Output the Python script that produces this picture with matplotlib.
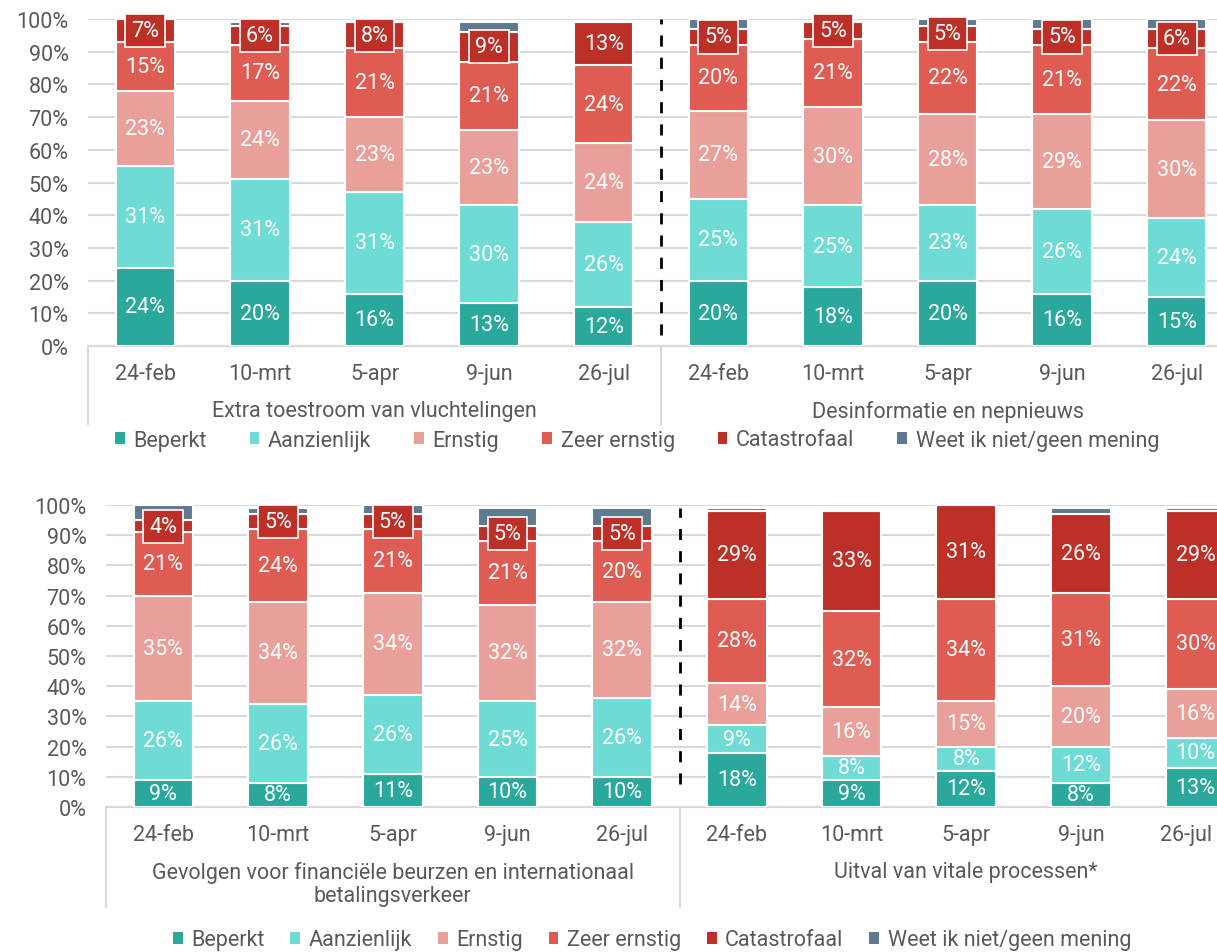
import numpy as np
import matplotlib.pyplot as plt
from matplotlib.patches import Patch
from matplotlib.transforms import ScaledTranslation

plt.rcParams['font.family'] = ['Roboto', 'DejaVu Sans']

# categories
dates = ['24-feb', '10-mrt', '5-apr', '9-jun', '26-jul'] * 2
series = ['Beperkt', 'Aanzienlijk', 'Ernstig', 'Zeer ernstig', 'Catastrofaal', 'Weet ik niet/geen mening']
colors = ['#2aa89b', '#6edcd4', '#eaa09a', '#de5c52', '#bc3027', '#5f7a8e']

# top chart: Extra toestroom van vluchtelingen | Desinformatie en nepnieuws
top_groups = ['Extra toestroom van vluchtelingen', 'Desinformatie en nepnieuws']
top_beperkt = [24, 20, 16, 13, 12, 20, 18, 20, 16, 15]
top_aanzienlijk = [31, 31, 31, 30, 26, 25, 25, 23, 26, 24]
top_ernstig = [23, 24, 23, 23, 24, 27, 30, 28, 29, 30]
top_zeer = [15, 17, 21, 21, 24, 20, 21, 22, 21, 22]
top_catastrofaal = [7, 6, 8, 9, 13, 5, 5, 5, 5, 6]
top_weet = [0, 1, 0.5, 3, 0, 3, 0.5, 2, 3, 3]

# bottom chart: Gevolgen financiele beurzen | Uitval van vitale processen
bot_groups = ['Gevolgen voor financiële beurzen en internationaal\nbetalingsverkeer',
              'Uitval van vitale processen*']
bot_beperkt = [9, 8, 11, 10, 10, 18, 9, 12, 8, 13]
bot_aanzienlijk = [26, 26, 26, 25, 26, 9, 8, 8, 12, 10]
bot_ernstig = [35, 34, 34, 32, 32, 14, 16, 15, 20, 16]
bot_zeer = [21, 24, 21, 21, 20, 28, 32, 34, 31, 30]
bot_catastrofaal = [4, 5, 5, 5, 5, 29, 33, 31, 26, 29]
bot_weet = [5, 2, 3, 6, 6, 1, 0, 0, 2, 1]

grid_c = '#d9d9d9'
text_c = '#595959'
fs = 15.5

fig = plt.figure(figsize=(12.17, 9.53), dpi=100)
ax1 = fig.add_axes([88 / 1217, 1 - 347 / 953, 1146 / 1217, 327 / 953])
ax2 = fig.add_axes([106 / 1217, 1 - 808 / 953, 1147 / 1217, 302 / 953])


def draw(ax, data, groups, dash_y, sep_len):
    x = np.arange(len(dates))
    bottom = np.zeros(len(dates))
    for k, vals in enumerate(data):
        vals = np.array(vals, dtype=float)
        ax.bar(x, vals, 0.52, bottom=bottom, color=colors[k], edgecolor='white',
               linewidth=1.5, zorder=3)
        if k < 5:
            for i in range(len(x)):
                yc = bottom[i] + vals[i] / 2
                lbl = f'{vals[i]:.0f}%'
                if k == 4 and vals[i] < 10:
                    ax.text(x[i], yc, lbl, ha='center', va='center', color='white',
                            fontsize=fs, zorder=5,
                            bbox=dict(boxstyle='square,pad=0.28', facecolor=colors[4],
                                      edgecolor='white', linewidth=1.2))
                else:
                    ax.text(x[i], yc, lbl, ha='center', va='center', color='white',
                            fontsize=fs, zorder=5)
        bottom += vals

    ax.set_xlim(-0.5, 9.5)
    ax.set_ylim(0, 100)
    ax.set_yticks(np.arange(0, 101, 10))
    ax.set_yticklabels([f'{v}%' for v in range(0, 101, 10)])
    ax.set_xticks(x)
    ax.set_xticklabels(dates)
    ax.tick_params(length=0, labelsize=fs, colors=text_c)
    ax.tick_params(axis='y', pad=14)
    ax.tick_params(axis='x', pad=12)
    ax.grid(axis='y', color=grid_c, linewidth=1.5, zorder=0)
    for s in ['top', 'right', 'left']:
        ax.spines[s].set_visible(False)
    ax.spines['bottom'].set_color(grid_c)
    ax.spines['bottom'].set_linewidth(1.5)

    # group separators and labels below the axis
    tr = ax.get_xaxis_transform()
    for xs in [-0.5, 4.5, 9.5]:
        ax.plot([xs, xs], [0, -sep_len], transform=tr, color=grid_c, lw=1.5, clip_on=False)
    top_off = 54 / (ax.get_position().height * 953)
    ax.text(2, -top_off, groups[0], transform=tr, ha='center', va='top',
            fontsize=fs, color=text_c, linespacing=1.15)
    ax.text(7, -top_off, groups[1], transform=tr, ha='center', va='top',
            fontsize=fs, color=text_c, linespacing=1.15)

    # dashed divider
    ax.plot([4.5, 4.5], dash_y, color='black', lw=2, ls=(0, (4, 4)), zorder=4)


draw(ax1, [top_beperkt, top_aanzienlijk, top_ernstig, top_zeer, top_catastrofaal, top_weet],
     top_groups, [3.5, 100], 78 / 327)
draw(ax2, [bot_beperkt, bot_aanzienlijk, bot_ernstig, bot_zeer, bot_catastrofaal, bot_weet],
     bot_groups, [7.5, 99], 100 / 302)

# last tick of the lower chart sits at the right edge; nudge it inside
last = ax2.get_xticklabels()[-1]
last.set_transform(last.get_transform() + ScaledTranslation(-0.1, 0, fig.dpi_scale_trans))

handles = [Patch(facecolor=c, edgecolor='none') for c in colors]
for yc, xc, cs in [(1 - 441 / 953, 637 / 1217, 2.0), (1 - 941 / 953, 652 / 1217, 1.2)]:
    fig.legend(handles, series, loc='center', bbox_to_anchor=(xc, yc), ncol=6,
               frameon=False, fontsize=fs, labelcolor=text_c, handlelength=0.45,
               handleheight=0.45, handletextpad=0.4, columnspacing=cs)

fig.savefig('out.png', dpi=100)
